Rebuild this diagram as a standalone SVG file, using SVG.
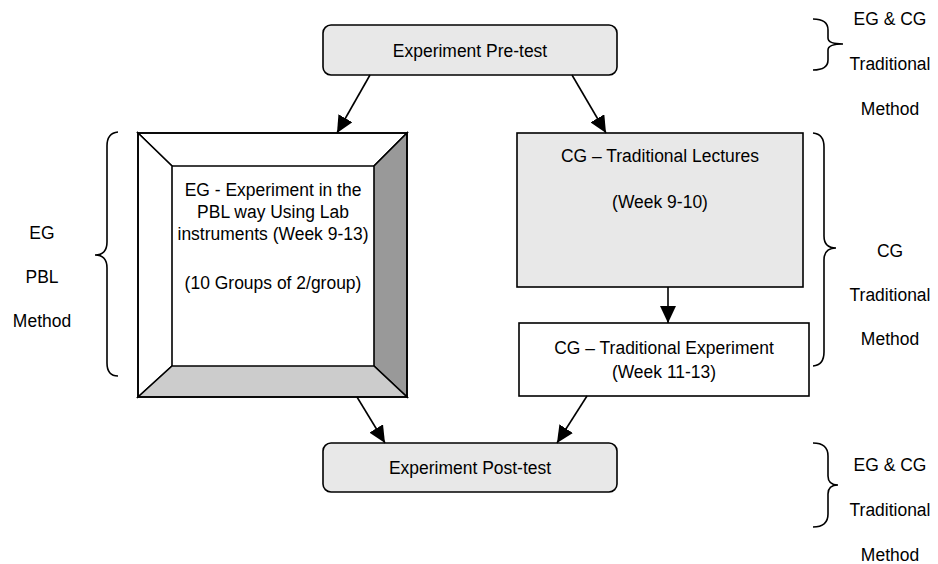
<svg xmlns="http://www.w3.org/2000/svg" width="938" height="564" viewBox="0 0 938 564">
<defs>
<style>
.t{font-family:"Liberation Sans",Arial,sans-serif;font-size:19px;fill:#000;text-anchor:middle}
.box{stroke:#000;stroke-width:1.6}
.gray{fill:#e8e8e8}
.wh{fill:#fff}
.br{fill:none;stroke:#000;stroke-width:1.6}
.ln{fill:none;stroke:#000;stroke-width:1.6}
</style>
<marker id="ah" markerUnits="userSpaceOnUse" markerWidth="18" markerHeight="16" refX="17" refY="8" orient="auto">
<path d="M0,0 L17,8 L0,16 Z" fill="#000"/>
</marker>
</defs>
<rect width="938" height="564" fill="#fff"/>

<g id="pretest">
<rect class="box gray" x="323" y="25" width="294" height="50" rx="8"/>
<text class="t" transform="translate(470,57) scale(.92,1)">Experiment Pre-test</text>
</g>

<g id="eg-pbl">
<rect class="wh" x="138" y="133" width="269" height="264"/>
<polygon points="138,133 407,133 374,166 172,166" fill="#fff" stroke="#000" stroke-width="1.6"/>
<polygon points="138,133 172,166 172,366 138,397" fill="#fff" stroke="#000" stroke-width="1.6"/>
<polygon points="407,133 407,397 374,366 374,166" fill="#999" stroke="#000" stroke-width="1.6"/>
<polygon points="138,397 172,366 374,366 407,397" fill="#ccc" stroke="#000" stroke-width="1.6"/>
<rect class="box" fill="none" x="138" y="133" width="269" height="264"/>
<text class="t" transform="translate(273,196) scale(.92,1)"><tspan x="0" y="0">EG - Experiment in the</tspan><tspan x="0" y="22">PBL way Using Lab</tspan><tspan x="0" y="44">instruments (Week 9-13)</tspan><tspan x="0" y="93">(10 Groups of 2/group)</tspan></text>
</g>

<g id="cg-lectures">
<rect class="box gray" x="517" y="133" width="286" height="154"/>
<text class="t" transform="translate(660,162) scale(.92,1)"><tspan x="0" y="0">CG – Traditional Lectures</tspan><tspan x="0" y="46">(Week 9-10)</tspan></text>
</g>

<g id="cg-experiment">
<rect class="box wh" x="519" y="323" width="290" height="73"/>
<text class="t" transform="translate(664,354) scale(.92,1)"><tspan x="0" y="0">CG – Traditional Experiment</tspan><tspan x="0" y="24">(Week 11-13)</tspan></text>
</g>

<g id="posttest">
<rect class="box gray" x="323" y="443" width="294" height="49" rx="8"/>
<text class="t" transform="translate(470,474) scale(.92,1)">Experiment Post-test</text>
</g>

<g id="label-left">
<path class="br" d="M118,132 Q107,133 107,146 L107,242 Q107,255 95,255 Q107,255 107,268 L107,363 Q107,376 118,376"/>
<text class="t" transform="translate(42,239) scale(.92,1)"><tspan x="0" y="0">EG</tspan><tspan x="0" y="44">PBL</tspan><tspan x="0" y="88">Method</tspan></text>
</g>

<g id="label-top-right">
<path class="br" d="M813,19 Q828,19 828,30 L828,38 Q828,44 843,44 Q828,44 828,50 L828,60 Q828,70 813,70"/>
<text class="t" transform="translate(890,25) scale(.92,1)"><tspan x="0" y="0">EG &amp; CG</tspan><tspan x="0" y="45">Traditional</tspan><tspan x="0" y="90">Method</tspan></text>
</g>

<g id="label-mid-right">
<path class="br" d="M813,133 Q824,134 824,147 L824,236 Q824,248 836,248 Q824,248 824,260 L824,352 Q824,365 813,366"/>
<text class="t" transform="translate(890,257) scale(.92,1)"><tspan x="0" y="0">CG</tspan><tspan x="0" y="44">Traditional</tspan><tspan x="0" y="88">Method</tspan></text>
</g>

<g id="label-bottom-right">
<path class="br" d="M813,443 Q828,443 828,456 L828,476 Q828,485 838,485 Q828,485 828,494 L828,514 Q828,527 813,527"/>
<text class="t" transform="translate(890,471) scale(.92,1)"><tspan x="0" y="0">EG &amp; CG</tspan><tspan x="0" y="45">Traditional</tspan><tspan x="0" y="90">Method</tspan></text>
</g>

<g id="connectors">
<line class="ln" x1="370" y1="75" x2="337" y2="133" marker-end="url(#ah)"/>
<line class="ln" x1="572" y1="75" x2="606" y2="133" marker-end="url(#ah)"/>
<line class="ln" x1="668" y1="287" x2="668" y2="323" marker-end="url(#ah)"/>
<line class="ln" x1="357" y1="397" x2="385" y2="443" marker-end="url(#ah)"/>
<line class="ln" x1="587" y1="396" x2="557" y2="443" marker-end="url(#ah)"/>
</g>
</svg>
